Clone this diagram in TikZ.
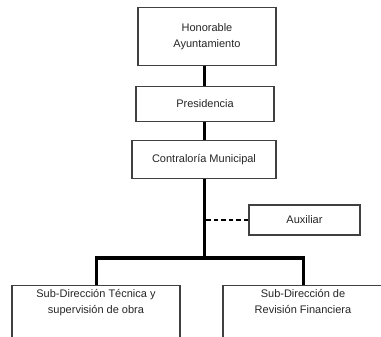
\documentclass[tikz,border=0pt]{standalone}
\usepackage{fontspec}
\setmainfont{Liberation Sans}
\begin{document}
\begin{tikzpicture}[x=1pt,y=-1pt,
  box/.style={draw=black!75,line width=1.4pt,fill=white,inner sep=0pt,align=center,
    font=\fontsize{11}{16}\selectfont,text=black!85},
  conn/.style={line width=3pt,black},
  dconn/.style={line width=2.2pt,black,dash pattern=on 4.5pt off 3pt}]
\useasboundingbox (0,0) rectangle (381,337);
\clip (0,0) rectangle (381,337);
\fill[white] (0,0) rectangle (381,337);
\node[box,minimum width=138pt,minimum height=58pt] (hon) at (207,36.5) {Honorable\\Ayuntamiento};
\node[box,minimum width=138pt,minimum height=35pt] (pre) at (205,104) {Presidencia};
\node[box,minimum width=144pt,minimum height=38pt] (con) at (204,159.5) {Contraloría Municipal};
\node[box,minimum width=111pt,minimum height=30pt] (aux) at (304.5,220) {Auxiliar};
\node[box,minimum width=168pt,anchor=north,inner ysep=4pt] (sdt) at (96,285)
  {Sub-Dirección Técnica y\\supervisión de obra\rule[-30pt]{0pt}{0pt}};
\node[box,minimum width=160pt,anchor=north,inner ysep=4pt] (sdr) at (303,285)
  {Sub-Dirección de\\Revisión Financiera\rule[-30pt]{0pt}{0pt}};
\coordinate (bus) at (204.5,258);
\draw[conn] (hon.south -| bus) -- (pre.north -| bus);
\draw[conn] (pre.south -| bus) -- (con.north -| bus);
\draw[conn] (con.south -| bus) -- (bus);
\draw[conn] (sdt.north) |- (bus) -| (sdr.north);
\draw[dconn] (aux.west) -- (aux.west -| bus);
\end{tikzpicture}
\end{document}
